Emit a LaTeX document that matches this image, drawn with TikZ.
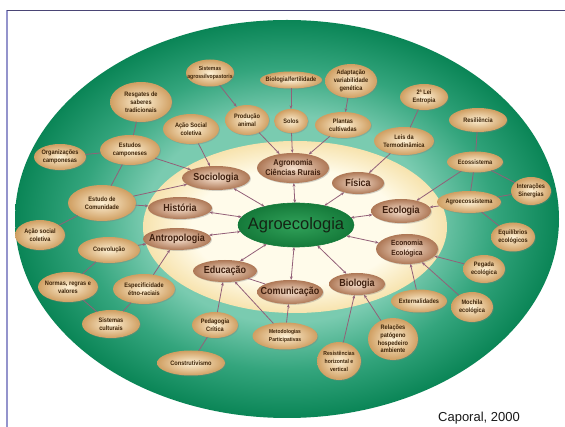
\documentclass[tikz,border=0pt]{standalone}
\usepackage{fontspec}
\setmainfont{Liberation Sans}
\newfontfamily\condf[FakeStretch=0.88]{Liberation Sans}
\usetikzlibrary{shapes.geometric,arrows.meta,shadows}
\definecolor{ringin}{HTML}{7ACBB0}
\definecolor{ringmid}{HTML}{34A57D}
\definecolor{ringout}{HTML}{0A8556}
\definecolor{creamin}{HTML}{FFFBEA}
\definecolor{creamout}{HTML}{F7E3AE}
\definecolor{smin}{HTML}{FDF0D4}
\definecolor{smout}{HTML}{D09F62}
\definecolor{smtext}{HTML}{3E2408}
\definecolor{catin}{HTML}{F6E0CE}
\definecolor{catout}{HTML}{AE7856}
\definecolor{cattext}{HTML}{40200F}
\definecolor{linkc}{HTML}{936078}
\definecolor{frametop}{HTML}{4A4575}
\definecolor{frameleft}{HTML}{9494CC}
\definecolor{agroin}{HTML}{31A25A}
\definecolor{agroout}{HTML}{157A3A}
\definecolor{agrotext}{HTML}{142414}
\pgfdeclareradialshading{greenring}{\pgfpoint{0bp}{0bp}}{color(0bp)=(ringin); color(13bp)=(ringin); color(19bp)=(ringmid); color(25bp)=(ringout); color(50bp)=(ringout)}
\pgfdeclareradialshading{creamfill}{\pgfpoint{0bp}{0bp}}{color(0bp)=(creamin); color(17bp)=(creamin); color(25bp)=(creamout); color(50bp)=(creamout)}
\tikzset{
  smbox/.style={ellipse, inner sep=0pt, outer sep=0pt, inner color=smin, outer color=smout,
    drop shadow={shadow xshift=0.9pt, shadow yshift=-0.9pt, opacity=0.35}},
  smtxt/.style={inner sep=0pt, text=smtext, align=center, font=\condf\bfseries\fontsize{6.4}{7.8}\selectfont},
  catbox/.style={ellipse, inner sep=0pt, outer sep=0pt, inner color=catin, outer color=catout,
    drop shadow={shadow xshift=0.9pt, shadow yshift=-0.9pt, opacity=0.35}},
  cattxt/.style={inner sep=0pt, text=cattext, align=center, font=\condf\bfseries\fontsize{10.2}{12}\selectfont},
  agrobox/.style={ellipse, inner sep=0pt, outer sep=0pt, inner color=agroin, outer color=agroout, draw=agroout, line width=0.6pt},
  agrotxt/.style={inner sep=0pt, text=agrotext, font=\fontsize{16.5}{19}\selectfont},
  lk/.style={draw=linkc, line width=0.8pt},
  ar/.style={lk, -{Stealth[length=3.6pt,width=2.8pt]}},
  dar/.style={lk, {Stealth[length=3.6pt,width=2.8pt]}-{Stealth[length=3.6pt,width=2.8pt]}},
}
\newcommand\smallbub[6][]{%
  \node[smbox, minimum width=#4pt, minimum height=#5pt] (#2) at (#3) {};
  \node[smtxt,#1] (#2-t) at (#2.center) {#6};}
\newcommand\catbub[6][]{%
  \node[catbox, minimum width=#4pt, minimum height=#5pt] (#2) at (#3) {};
  \node[cattxt,#1] (#2-t) at (#2.center) {#6};}
\begin{document}
\begin{tikzpicture}[x=1pt,y=-1pt]
\useasboundingbox (0,0) rectangle (565,427);
\fill[white] (0,0) rectangle (565,427);
% rings
\shade[shading=greenring] (287,219) ellipse [x radius=272, y radius=199];
\shade[shading=creamfill] (295,227) ellipse [x radius=152, y radius=86];
% frame
\draw[frameleft, line width=1.1pt] (7,427) -- (7,10.5);
\draw[frametop, line width=1.1pt] (6.5,10.5) -- (565,10.5);
% centre
\node[agrobox, minimum width=116pt, minimum height=44pt] (agro) at (296,225) {};
\node[agrotxt] (agro-t) at (agro.center) {Agroecologia};
% categories
\catbub{soc}{216,178}{68}{24}{Sociologia}
\catbub[font=\condf\bfseries\fontsize{8.4}{10}\selectfont]{agron}{293,168}{72}{30}{Agronomia\\Ciências Rurais}
\catbub{fis}{358,183}{52}{22}{Física}
\catbub{ecol}{401,211}{60}{24}{Ecologia}
\catbub[font=\condf\bfseries\fontsize{7.5}{10}\selectfont]{econ}{407,249}{62}{30}{Economia\\Ecológica}
\catbub{hist}{180,208}{64}{22}{História}
\catbub{antro}{177,239}{68}{22}{Antropologia}
\catbub{educ}{225,271}{64}{22}{Educação}
\catbub{comun}{290,292}{66}{24}{Comunicação}
\catbub{biol}{357,284}{56}{22}{Biologia}
% small nodes
\smallbub[font=\condf\bfseries\fontsize{5.8}{7.6}\selectfont]{sap}{210,73}{48}{27}{Sistemas\\agrossilvopastoris}
\smallbub{biof}{291,80}{62}{17}{Biologia/fertilidade}
\smallbub{adap}{351,81}{52}{34}{Adaptação\\variabilidade\\genética}
\smallbub{prod}{247,120}{44}{30}{Produção\\animal}
\smallbub{solos}{291,121}{34}{24}{Solos}
\smallbub{plant}{343,125}{56}{26}{Plantas\\cultivadas}
\smallbub{acsa}{191,129}{56}{30}{Ação Social\\coletiva}
\smallbub{resg}{141,102}{62}{40}{Resgates de\\saberes\\tradicionais}
\smallbub{estc}{130,150}{60}{30}{Estudos\\camponeses}
\smallbub{orgc}{60,157}{52}{26}{Organizações\\camponesas}
\smallbub{estcom}{102,203}{68}{36}{Estudo de\\Comunidade}
\smallbub{acsb}{40,235}{50}{30}{Ação social\\coletiva}
\smallbub{coev}{109,250}{62}{26}{Coevolução}
\smallbub{normas}{68,287}{60}{30}{Normas, regras e\\valores}
\smallbub{espec}{144,289}{62}{30}{Especificidade\\étno-raciais}
\smallbub{sistc}{111,324}{58}{28}{Sistemas\\culturais}
\smallbub{pedag}{215,325}{46}{26}{Pedagogia\\Crítica}
\smallbub{constr}{191,363}{68}{25}{Construtivismo}
\smallbub[font=\condf\bfseries\fontsize{5.6}{7.6}\selectfont]{metod}{285,336}{65}{27}{Metodologias\\Participativas}
\smallbub[font=\condf\bfseries\fontsize{5.8}{8}\selectfont]{resist}{339,361}{44}{38}{Resistências\\horizontal e\\vertical}
\smallbub{relac}{393,339}{50}{42}{Relações\\patógeno\\hospedeiro\\ambiente}
\smallbub{extern}{419,301}{56}{23}{Externalidades}
\smallbub{mochila}{472,307}{42}{30}{Mochila\\ecológica}
\smallbub{pegada}{484,269}{42}{28}{Pegada\\ecológica}
\smallbub{equil}{513,237}{44}{29}{Equilíbrios\\ecológicos}
\smallbub{inter}{531,191}{40}{28}{Interações\\Sinergias}
\smallbub{agroes}{469,202}{64}{22}{Agroecossistema}
\smallbub{ecos}{475,162}{56}{21}{Ecossistema}
\smallbub{resil}{478,120}{58}{24}{Resiliência}
\smallbub{leia}{424,97}{48}{26}{2ª Lei\\Entropia}
\smallbub{leis}{404,141}{60}{28}{Leis da\\Termodinâmica}
% category <-> centre
\foreach \c in {soc,agron,fis,ecol,econ,hist,antro,educ,comun,biol}
  \draw[dar] (\c) -- (agro);
% arrows towards inner nodes
\draw[ar] (sap) -- (prod);
\draw[ar] (biof) -- (solos);
\draw[ar] (adap) -- (plant);
\draw[ar] (prod) -- (agron);
\draw[ar] (solos) -- (agron);
\draw[ar] (plant) -- (agron);
\draw[ar] (acsa) -- (soc);
\draw[ar] (estc) -- (soc);
\draw[ar] (estcom) -- (soc);
\draw[ar] (estcom) -- (hist);
\draw[ar] (coev) -- (antro);
\draw[ar] (espec) -- (antro);
\draw[ar] (pedag) -- (educ);
\draw[ar] (metod) -- (educ);
\draw[ar] (metod) -- (comun);
\draw[ar] (resist) -- (biol);
\draw[ar] (relac) -- (biol);
\draw[ar] (extern) -- (econ);
\draw[ar] (mochila) -- (econ);
\draw[ar] (pegada) -- (econ);
\draw[ar] (agroes) -- (ecol);
\draw[ar] (ecos) -- (ecol);
\draw[ar] (leis) -- (fis);
% plain links
\draw[lk] (educ) -- (comun);
\draw[lk] (resg) -- (estc);
\draw[lk] (estc) -- (orgc);
\draw[lk] (estc) -- (estcom);
\draw[lk] (estcom) -- (acsb);
\draw[lk] (coev) -- (normas);
\draw[lk] (normas) -- (sistc);
\draw[lk] (sistc) -- (espec);
\draw[lk] (constr) -- (pedag);
\draw[lk] (leis) -- (leia);
\draw[lk] (ecos) -- (resil);
\draw[lk] (ecos) -- (agroes);
\draw[lk] (ecos) -- (inter);
\draw[lk] (agroes) -- (inter);
\draw[lk] (agroes) -- (equil);
% caption
\node[text=black!90, font=\fontsize{13}{15}\selectfont, inner sep=0pt] (cap) at (479,418) {Caporal, 2000};
\end{tikzpicture}
\end{document}
